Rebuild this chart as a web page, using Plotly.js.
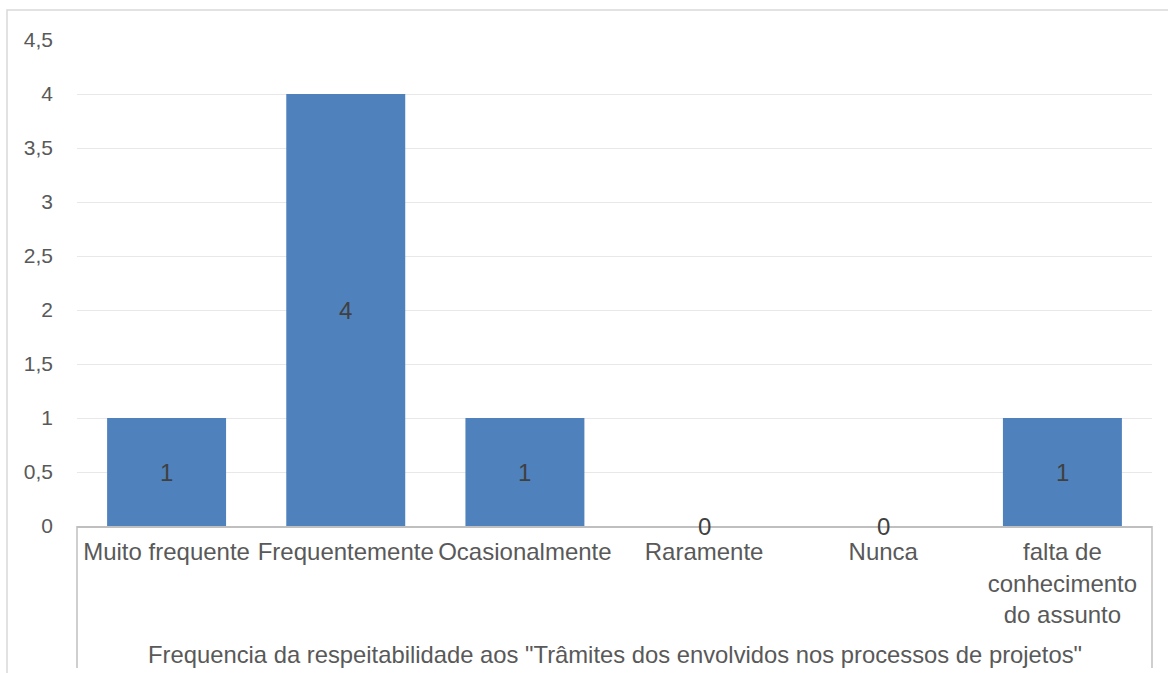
<!DOCTYPE html>
<html><head><meta charset="utf-8">
<script src="https://cdn.plot.ly/plotly-3.0.1.min.js"></script>
<style>html,body{margin:0;padding:0;background:#fff}#c{width:1168px;height:673px}</style>
</head><body><div id="c"></div>
<script>
const categories = ["Muito frequente","Frequentemente","Ocasionalmente","Raramente","Nunca","falta de<br>conhecimento<br>do assunto"];
const values = [1,4,1,0,0,1];
const yTicks = [0,0.5,1,1.5,2,2.5,3,3.5,4,4.5];
const yTickText = ["0","0,5","1","1,5","2","2,5","3","3,5","4","4,5"];
const xTitle = 'Frequencia da respeitabilidade aos "Trâmites dos envolvidos nos processos de projetos"';

const font = "Liberation Sans, Arial, sans-serif";
const grey = "#595959";

const annotations = values.map((v,i)=>({
  x: categories[i], y: v/2, xref:'x', yref:'y', text:String(v), showarrow:false,
  font:{family:font,size:24,color:"#404040"}, yanchor:'middle', xanchor:'center'
}));
annotations.push({
  x:0.5, y:-0.265, xref:'paper', yref:'paper', text:xTitle, showarrow:false,
  font:{family:font,size:23.8,color:grey}, xanchor:'center', yanchor:'middle'
});

const shapes = [
  {type:'line', xref:'paper', yref:'paper', x0:0, x1:0, y0:0, y1:-0.292, line:{color:'#bfbfbf',width:1.5}},
  {type:'line', xref:'paper', yref:'paper', x0:1, x1:1, y0:0, y1:-0.292, line:{color:'#bfbfbf',width:1.5}},
  {type:'rect', xref:'paper', yref:'paper', x0:(7-77)/1075, x1:1.2, y0:-0.5, y1:(526-10)/486, line:{color:'#d9d9d9',width:1.5}, fillcolor:'rgba(0,0,0,0)'}
];

Plotly.newPlot('c', [{
  type:'bar', x:categories, y:values, marker:{color:'#4f81bd'}, hoverinfo:'none'
}], {
  width:1168, height:673,
  margin:{l:77, r:16, t:40, b:147},
  paper_bgcolor:'#fff', plot_bgcolor:'#fff',
  bargap:0.336,
  showlegend:false,
  xaxis:{
    type:'category', showline:true, linecolor:'#bfbfbf', linewidth:1.5,
    ticks:'', tickfont:{family:font,size:24,color:grey}, ticklabelstandoff:4,
    showgrid:false, zeroline:false
  },
  yaxis:{
    range:[0,4.5], tickvals:yTicks, ticktext:yTickText,
    tickfont:{family:font,size:21,color:grey}, showgrid:true, gridcolor:'#e8e8e8', gridwidth:1,
    zeroline:false, showline:false, ticks:'', ticklabelstandoff:23
  },
  annotations:annotations, shapes:shapes
}, {staticPlot:true, displayModeBar:false});
</script></body></html>
